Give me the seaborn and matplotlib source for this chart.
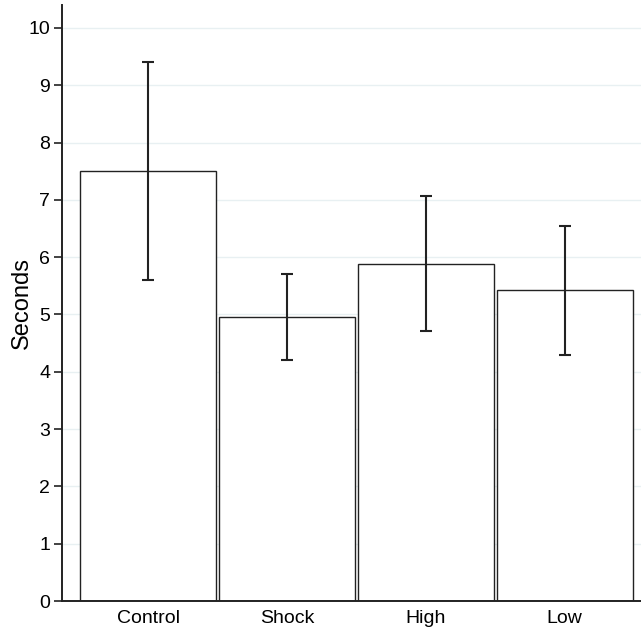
import matplotlib
matplotlib.use("Agg")
import matplotlib.pyplot as plt
import seaborn as sns
import pandas as pd

# data
groups = ['Control', 'Shock', 'High', 'Low']
means = [7.50, 4.95, 5.88, 5.42]
lower = [5.61, 4.20, 4.71, 4.30]
upper = [9.41, 5.71, 7.06, 6.55]

df = pd.DataFrame({'group': groups, 'seconds': means})

sns.set_style('white')
plt.rcParams['font.family'] = ['Liberation Sans', 'DejaVu Sans']
plt.rcParams['text.color'] = 'black'
plt.rcParams['axes.labelcolor'] = 'black'
plt.rcParams['xtick.color'] = 'black'
plt.rcParams['ytick.color'] = 'black'

fig = plt.figure(figsize=(6.41, 6.31), dpi=100)
ax = fig.add_axes([62 / 641, 30 / 631, 1 - 62 / 641, (601 - 5) / 631])

sns.barplot(x='group', y='seconds', data=df, color='white', edgecolor='#222222',
            linewidth=1.0, width=0.98, errorbar=None, ax=ax)
for b in ax.patches:
    b.set_facecolor('white')

# error bars
yerr = [[m - lo for m, lo in zip(means, lower)], [hi - m for m, hi in zip(means, upper)]]
ax.errorbar(range(len(groups)), means, yerr=yerr, fmt='none', ecolor='#222222',
            elinewidth=1.5, capsize=4, capthick=1.5)

ax.set_ylim(0, 10.4)
ax.set_xlim(-0.62, 3.55)
ax.set_yticks(range(0, 11))
ax.yaxis.grid(True, color='#e8f0f2', linewidth=1)
ax.set_axisbelow(True)

ax.set_xlabel('')
ax.set_ylabel('Seconds', fontsize=17, labelpad=-3)
ax.tick_params(axis='y', left=True, length=6, width=1.2, labelsize=14, color='#222222', pad=2.5)
ax.tick_params(axis='x', bottom=False, labelsize=14, pad=3)

for s in ['top', 'right']:
    ax.spines[s].set_visible(False)
for s in ['left', 'bottom']:
    ax.spines[s].set_color('#222222')
    ax.spines[s].set_linewidth(1.4)

plt.savefig('out.png', dpi=100)
